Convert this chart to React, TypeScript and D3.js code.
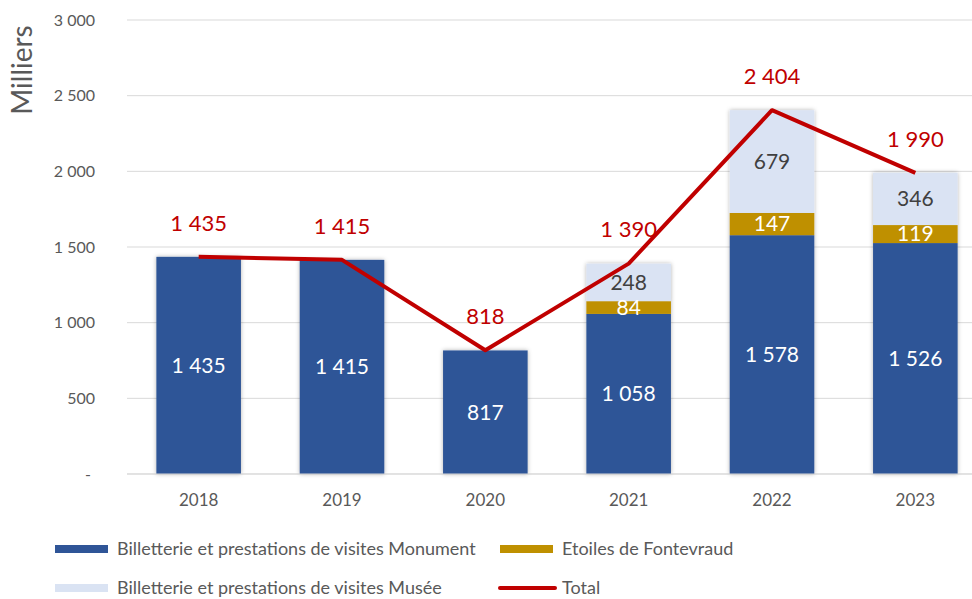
import { useRef, useEffect } from "react";
import * as d3 from "d3";

const years = ["2018", "2019", "2020", "2021", "2022", "2023"];
const monument = [1435, 1415, 817, 1058, 1578, 1526];
const etoiles = [0, 0, 0, 84, 147, 119];
const musee = [0, 0, 1, 248, 679, 346];
const total = [1435, 1415, 818, 1390, 2404, 1990];
const yTicks = [0, 500, 1000, 1500, 2000, 2500, 3000];

const seriesNames = [
  "Billetterie et prestations de visites Monument",
  "Etoiles de Fontevraud",
  "Billetterie et prestations de visites Musée",
  "Total",
];
const colors = { monument: "#2F5597", etoiles: "#BF9000", musee: "#DAE3F3", total: "#C00000" };

const fr = d3.formatLocale({ decimal: ",", thousands: "\u00a0", grouping: [3], currency: ["", " €"] });
const fmt = fr.format(",d");
const FONT = "Lato, 'Noto Sans', sans-serif";

export default function App() {
  const ref = useRef<SVGSVGElement>(null);
  useEffect(() => {
    if (!ref.current) return;
    const svg = d3.select(ref.current);
    svg.selectAll("*").remove();
    const W = 972, H = 599;
    svg.attr("width", W).attr("height", H).style("font-family", FONT);

    const defs = svg.append("defs");
    const f = defs.append("filter").attr("id", "shadow").attr("x", "-20%").attr("y", "-5%").attr("width", "140%").attr("height", "110%");
    f.append("feDropShadow").attr("dx", 0).attr("dy", 0).attr("stdDeviation", 2.2).attr("flood-color", "#000").attr("flood-opacity", 0.3);

    const y = d3.scaleLinear().domain([0, 3000]).range([474, 20]);
    const x = d3.scaleBand().domain(years).range([127, 987]).paddingInner(0.41).paddingOuter(0.205);

    // grid
    svg.selectAll(".grid").data(yTicks).join("line")
      .attr("x1", 127).attr("x2", W).attr("y1", d => y(d)).attr("y2", d => y(d))
      .attr("stroke", "#d9d9d9").attr("stroke-width", 1);
    svg.selectAll(".ytick").data(yTicks).join("text")
      .attr("x", d => d === 0 ? 91 : 95).attr("y", d => y(d)).attr("dy", "0.35em").attr("text-anchor", "end")
      .attr("fill", "#595959").attr("font-size", "16px").text(d => d === 0 ? "-" : fmt(d));
    svg.append("text").attr("transform", "translate(32,70) rotate(-90)").attr("text-anchor", "middle")
      .attr("fill", "#595959").attr("font-size", "28px").text("Milliers");

    const rows = years.map((yr, i) => ({ yr, i }));
    const bars = svg.append("g").attr("filter", "url(#shadow)");
    const segs: { yr: string; y0: number; y1: number; color: string; v: number; lc: string }[] = [];
    rows.forEach(({ yr, i }) => {
      const a = monument[i], b = etoiles[i], c = musee[i];
      segs.push({ yr, y0: 0, y1: a, color: colors.monument, v: a, lc: "#fff" });
      if (b > 0) segs.push({ yr, y0: a, y1: a + b, color: colors.etoiles, v: b, lc: "#fff" });
      if (c > 0) segs.push({ yr, y0: a + b, y1: a + b + c, color: colors.musee, v: c, lc: "#404040" });
    });
    bars.selectAll("rect").data(segs).join("rect")
      .attr("x", d => x(d.yr)!).attr("width", x.bandwidth())
      .attr("y", d => y(d.y1)).attr("height", d => y(d.y0) - y(d.y1)).attr("fill", d => d.color);

    svg.selectAll(".seglabel").data(segs.filter(d => d.v > 20)).join("text")
      .attr("x", d => x(d.yr)! + x.bandwidth() / 2).attr("y", d => (y(d.y0) + y(d.y1)) / 2).attr("dy", "0.35em")
      .attr("text-anchor", "middle").attr("fill", d => d.lc).attr("font-size", "21px").text(d => fmt(d.v));

    // baseline
    svg.append("line").attr("x1", 127).attr("x2", W).attr("y1", y(0)).attr("y2", y(0)).attr("stroke", "#d9d9d9");

    svg.selectAll(".xlabel").data(years).join("text")
      .attr("x", d => x(d)! + x.bandwidth() / 2).attr("y", 500).attr("dy", "0.35em").attr("text-anchor", "middle")
      .attr("fill", "#595959").attr("font-size", "17px").text(d => d);

    const line = d3.line<number>().x((_, i) => x(years[i])! + x.bandwidth() / 2).y(d => y(d));
    svg.append("path").datum(total).attr("d", line).attr("fill", "none")
      .attr("stroke", colors.total).attr("stroke-width", 4).attr("stroke-linejoin", "round");
    svg.selectAll(".tlabel").data(total).join("text")
      .attr("x", (_, i) => x(years[i])! + x.bandwidth() / 2).attr("y", d => y(d) - 34).attr("dy", "0.35em")
      .attr("text-anchor", "middle").attr("fill", colors.total).attr("font-size", "22px").text(d => fmt(d));

    // legend
    const legend = [
      { name: seriesNames[0], color: colors.monument, x: 55, y: 549, kind: "rect" },
      { name: seriesNames[1], color: colors.etoiles, x: 500, y: 549, kind: "rect" },
      { name: seriesNames[2], color: colors.musee, x: 55, y: 588, kind: "rect" },
      { name: seriesNames[3], color: colors.total, x: 500, y: 588, kind: "line" },
    ];
    const lg = svg.selectAll(".legend").data(legend).join("g").attr("transform", d => `translate(${d.x},${d.y})`);
    lg.filter(d => d.kind === "rect").append("rect").attr("x", 0).attr("y", -4).attr("width", 53).attr("height", 8).attr("fill", d => d.color);
    lg.filter(d => d.kind === "line").append("line").attr("x1", 0).attr("x2", 55).attr("y1", 0).attr("y2", 0)
      .attr("stroke", d => d.color).attr("stroke-width", 4).attr("stroke-linecap", "round");
    lg.append("text").attr("x", 62).attr("dy", "0.35em").attr("fill", "#595959").attr("font-size", "18px").text(d => d.name);
  }, []);

  return <svg ref={ref} style={{ position: "absolute", left: 0, top: 0, background: "#fff" }} />;
}
